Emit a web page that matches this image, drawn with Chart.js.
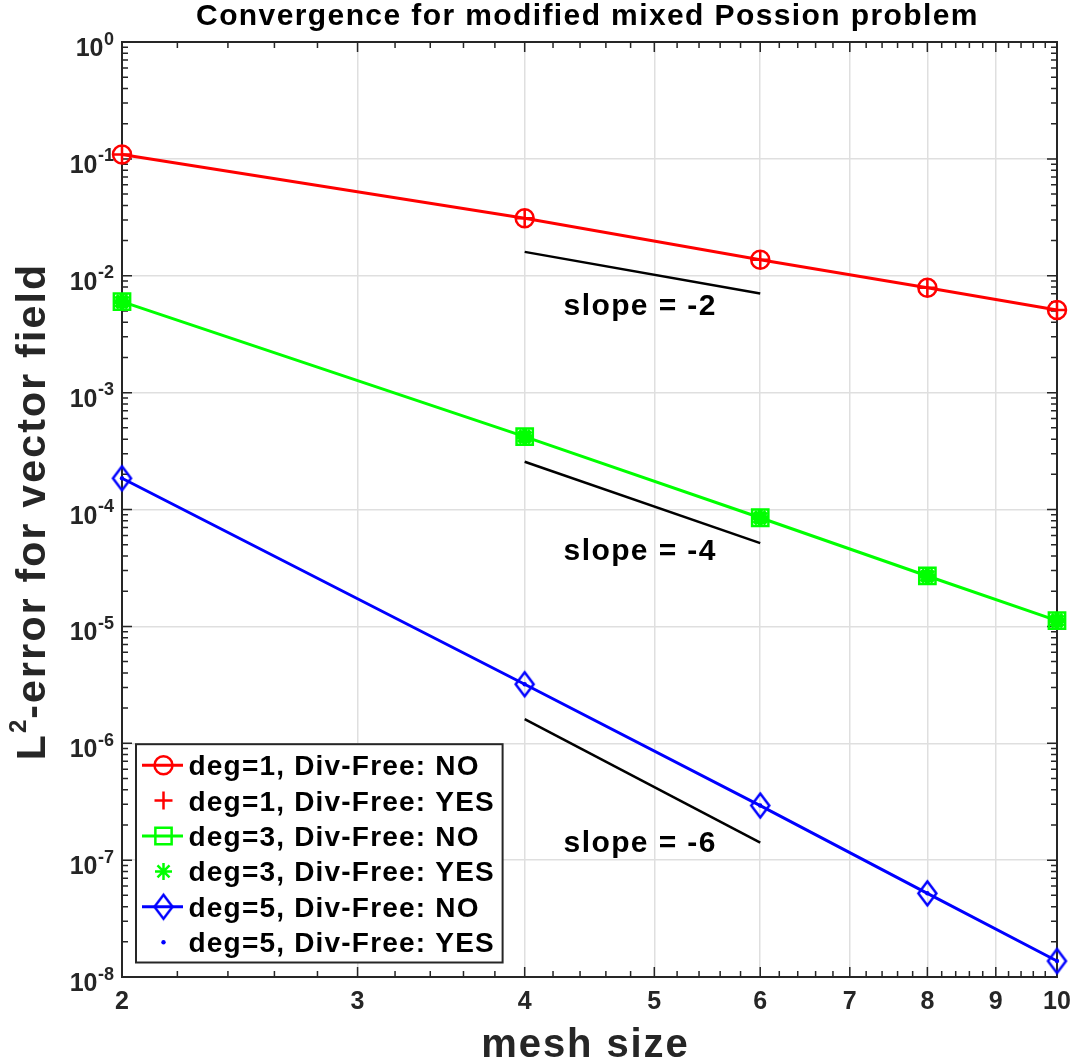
<!DOCTYPE html>
<html lang="en">
<head>
<meta charset="UTF-8">
<title>Convergence for modified mixed Possion problem</title>
<script src="https://cdn.jsdelivr.net/npm/chart.js@4.4.1/dist/chart.umd.min.js"></script>
<style>
  html, body { margin: 0; padding: 0; background: #fff; }
  #chart { display: block; }
</style>
</head>
<body>
<canvas id="chart" width="1071" height="1061"></canvas>
<script>
// x values: mesh size
const meshSizes = [2, 4, 6, 8, 10];

// L2 error of the vector field
const deg1No  = [0.109, 0.031, 0.0137, 0.0079, 0.0051];
const deg1Yes = [0.109, 0.031, 0.0137, 0.0079, 0.0051];
const deg3No  = [0.0060, 4.2e-4, 8.5e-5, 2.7e-5, 1.12e-5];
const deg3Yes = [0.0060, 4.2e-4, 8.5e-5, 2.7e-5, 1.12e-5];
const deg5No  = [1.85e-4, 3.2e-6, 2.93e-7, 5.2e-8, 1.37e-8];
const deg5Yes = [1.85e-4, 3.2e-6, 2.93e-7, 5.2e-8, 1.37e-8];

// reference slope segments between mesh 4 and 6
const slopeX = [4, 6];
const slope2 = [0.0160, 0.00704];
const slope4 = [2.56e-4, 5.15e-5];
const slope6 = [1.61e-6, 1.41e-7];
const slopeLabels = ['slope = -2', 'slope = -4', 'slope = -6'];
const slopeLabelAt = [[4.88, 4.6e-3], [4.88, 3.7e-5], [4.88, 1.18e-7]];

// tick labels
const xTicks = [2, 3, 4, 5, 6, 7, 8, 9, 10];
const yExponents = [0, -1, -2, -3, -4, -5, -6, -7, -8];

const FONT = '"Liberation Sans", Arial, Helvetica, sans-serif';
const axisColor = '#262626';
const RED = '#ff0000', GREEN = '#00ff00', BLUE = '#0000ff';

function setFont(ctx, size, spacing) {
  ctx.font = 'bold ' + size + 'px ' + FONT;
  ctx.letterSpacing = (spacing || 0) + 'px';
}

// matlab style diamond (taller than wide)
function diamondMarker(color) {
  const c = document.createElement('canvas');
  const hw = 9, hh = 12, lw = 2.5;
  c.width = 2 * hw + 2 * lw + 2;
  c.height = 2 * hh + 2 * lw + 2;
  const g = c.getContext('2d');
  const cx = c.width / 2, cy = c.height / 2;
  g.strokeStyle = color;
  g.lineWidth = lw;
  g.beginPath();
  g.moveTo(cx, cy - hh);
  g.lineTo(cx + hw, cy);
  g.lineTo(cx, cy + hh);
  g.lineTo(cx - hw, cy);
  g.closePath();
  g.stroke();
  return c;
}

function series(label, values, color, extra) {
  return Object.assign({
    label: label,
    data: meshSizes.map((x, i) => ({ x: x, y: values[i] })),
    borderColor: color,
    backgroundColor: color,
    pointBorderColor: color,
    pointBackgroundColor: 'rgba(0,0,0,0)',
    borderWidth: 3,
    pointBorderWidth: 2.5,
    pointRadius: 9,
    pointHoverRadius: 9,
    tension: 0,
    clip: false,
    order: 1
  }, extra);
}

function guide(values) {
  return {
    label: '',
    isGuide: true,
    data: slopeX.map((x, i) => ({ x: x, y: values[i] })),
    borderColor: '#000',
    borderWidth: 2.5,
    pointRadius: 0,
    tension: 0,
    order: 2
  };
}

const datasets = [
  series('deg=1, Div-Free: NO', deg1No, RED, { pointStyle: 'circle' }),
  series('deg=1, Div-Free: YES', deg1Yes, RED, { pointStyle: 'cross', showLine: false, order: 0 }),
  series('deg=3, Div-Free: NO', deg3No, GREEN, { pointStyle: 'rect', pointRadius: 11.5, pointHoverRadius: 11.5 }),
  series('deg=3, Div-Free: YES', deg3Yes, GREEN, { pointStyle: 'star', pointRadius: 8.5, pointBorderWidth: 5, legendBorderWidth: 2.5, showLine: false, order: 0 }),
  series('deg=5, Div-Free: NO', deg5No, BLUE, { pointStyle: diamondMarker(BLUE) }),
  series('deg=5, Div-Free: YES', deg5Yes, BLUE, { pointStyle: 'circle', pointRadius: 2.2, pointBorderWidth: 0, pointBackgroundColor: BLUE, showLine: false, order: 0 }),
  guide(slope2),
  guide(slope4),
  guide(slope6)
];

// box, inner ticks on all four sides (major + minor)
const axesBox = {
  id: 'axesBox',
  beforeDatasetsDraw(chart) {
    const { ctx, chartArea: a, scales: { x, y } } = chart;
    ctx.save();
    ctx.strokeStyle = axisColor;
    ctx.lineWidth = 1.5;
    ctx.beginPath();
    for (let k = 0; k <= 40; k++) {
      const v = 2 + k * 0.2;
      const len = k % 5 === 0 ? 10 : 6;
      const px = x.getPixelForValue(v);
      ctx.moveTo(px, a.bottom); ctx.lineTo(px, a.bottom - len);
      ctx.moveTo(px, a.top); ctx.lineTo(px, a.top + len);
    }
    for (let e = -8; e <= 0; e++) {
      for (let m = 1; m <= 9; m++) {
        if (e === 0 && m > 1) break;
        const py = y.getPixelForValue(m * Math.pow(10, e));
        const len = m === 1 ? 10 : 6;
        ctx.moveTo(a.left, py); ctx.lineTo(a.left + len, py);
        ctx.moveTo(a.right, py); ctx.lineTo(a.right - len, py);
      }
    }
    ctx.stroke();
    ctx.lineWidth = 2;
    ctx.strokeRect(a.left, a.top, a.right - a.left, a.bottom - a.top);
    ctx.restore();
  },
  afterDatasetsDraw(chart) {
    const { ctx, chartArea: a, scales: { x, y } } = chart;
    ctx.save();
    // slope labels
    ctx.fillStyle = '#000';
    ctx.textAlign = 'center';
    ctx.textBaseline = 'alphabetic';
    setFont(ctx, 30, 1.4);
    slopeLabels.forEach((t, i) => {
      ctx.fillText(t, x.getPixelForValue(slopeLabelAt[i][0]), y.getPixelForValue(slopeLabelAt[i][1]));
    });

    // legend box
    const items = chart.data.datasets.filter(d => !d.isGuide);
    const bx = a.left + 14, bw = 366.6, bh = 218.3, by = a.bottom - 14.5 - bh;
    ctx.fillStyle = '#fff';
    ctx.fillRect(bx, by, bw, bh);
    ctx.strokeStyle = axisColor;
    ctx.lineWidth = 2;
    ctx.strokeRect(bx, by, bw, bh);
    items.forEach((d, i) => {
      const cy = by + 21 + i * 35.4;
      if (d.showLine !== false) {
        ctx.strokeStyle = d.borderColor;
        ctx.lineWidth = d.borderWidth;
        ctx.beginPath();
        ctx.moveTo(bx + 6, cy);
        ctx.lineTo(bx + 47, cy);
        ctx.stroke();
      }
      const bwPt = d.legendBorderWidth !== undefined ? d.legendBorderWidth : d.pointBorderWidth;
      ctx.strokeStyle = d.pointBorderColor;
      ctx.fillStyle = d.pointBackgroundColor;
      ctx.lineWidth = bwPt;
      Chart.helpers.drawPoint(ctx, {
        pointStyle: d.pointStyle, radius: d.pointRadius, rotation: 0, borderWidth: bwPt
      }, bx + 27.5, cy);
      ctx.fillStyle = '#000';
      ctx.textAlign = 'left';
      setFont(ctx, 28, 1.2);
      ctx.fillText(d.label, bx + 52.5, cy + 10);
    });
    ctx.restore();
  },
  afterDraw(chart) {
    const { ctx, chartArea: a, scales: { y } } = chart;
    const midX = (a.left + a.right) / 2;
    const midY = (a.top + a.bottom) / 2;
    ctx.save();
    ctx.textBaseline = 'alphabetic';

    // title
    ctx.fillStyle = '#000';
    ctx.textAlign = 'center';
    setFont(ctx, 30, 1.4);
    ctx.fillText('Convergence for modified mixed Possion problem', midX - 2, 25);

    // x title
    ctx.fillStyle = axisColor;
    setFont(ctx, 40, 1.9);
    ctx.fillText('mesh size', midX - 4, 1056.5);

    // y tick labels 10^k
    ctx.textAlign = 'right';
    yExponents.forEach(e => {
      const py = y.getPixelForValue(Math.pow(10, e));
      const right = a.left - 8;
      setFont(ctx, 18, 0);
      const ex = String(e);
      const ew = ctx.measureText(ex).width;
      ctx.fillText(ex, right, py + 2.5);
      setFont(ctx, 25, 0);
      ctx.fillText('10', right - ew - 0.5, py + 14);
    });

    // y title with superscript
    ctx.translate(45, midY + 2);
    ctx.rotate(-Math.PI / 2);
    ctx.textAlign = 'left';
    setFont(ctx, 41, 2.2);
    const wL = ctx.measureText('L').width;
    const rest = '-error for vector field';
    const wR = ctx.measureText(rest).width;
    setFont(ctx, 24, 0);
    const w2 = ctx.measureText('2').width + 1;
    let u = -(wL + w2 + wR) / 2;
    setFont(ctx, 41, 2.2);
    ctx.fillText('L', u, 0);
    u += wL;
    setFont(ctx, 24, 0);
    ctx.fillText('2', u, -19);
    u += w2;
    setFont(ctx, 41, 2.2);
    ctx.fillText(rest, u, 0);
    ctx.restore();
  }
};

new Chart(document.getElementById('chart'), {
  type: 'line',
  data: { datasets: datasets },
  options: {
    responsive: false,
    animation: false,
    devicePixelRatio: 1,
    events: [],
    layout: { padding: { top: 42, right: 14, bottom: 0, left: 0 } },
    plugins: {
      legend: { display: false },
      tooltip: { enabled: false },
      title: { display: false }
    },
    scales: {
      x: {
        type: 'logarithmic',
        min: 2,
        max: 10,
        afterBuildTicks: s => { s.ticks = xTicks.map(v => ({ value: v })); },
        afterFit: s => { s.height = 84; s.paddingLeft = 0; s.paddingRight = 0; },
        grid: { color: '#dfdfdf', lineWidth: 1.5, drawTicks: false },
        border: { display: false },
        ticks: {
          autoSkip: false,
          maxRotation: 0,
          minRotation: 0,
          padding: 10,
          color: axisColor,
          font: { family: FONT, size: 25, weight: 'bold' },
          callback: v => String(v)
        }
      },
      y: {
        type: 'logarithmic',
        min: 1e-8,
        max: 1,
        afterBuildTicks: s => { s.ticks = yExponents.map(e => ({ value: Math.pow(10, e) })); },
        afterFit: s => { s.width = 122; s.paddingTop = 0; s.paddingBottom = 0; },
        grid: { color: '#dfdfdf', lineWidth: 1.5, drawTicks: false },
        border: { display: false },
        ticks: { display: false }
      }
    }
  },
  plugins: [axesBox]
});
</script>
</body>
</html>
